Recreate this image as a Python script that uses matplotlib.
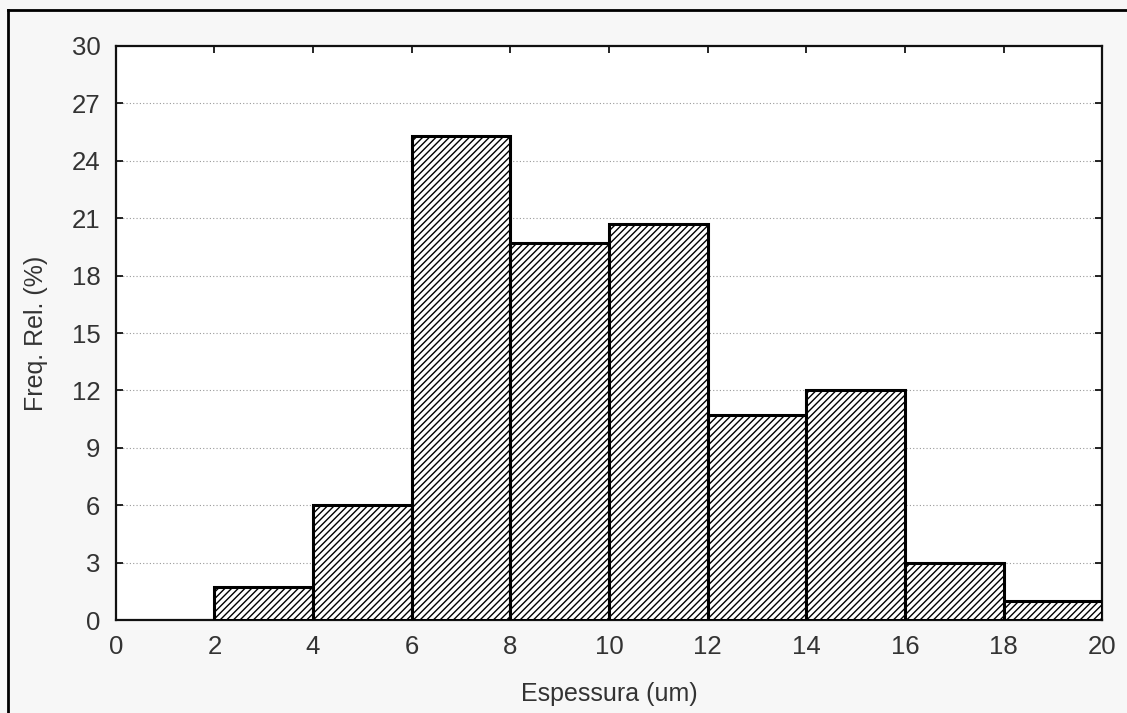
import matplotlib
matplotlib.use("Agg")
import matplotlib.pyplot as plt
from matplotlib.lines import Line2D

bin_edges = [2, 4, 6, 8, 10, 12, 14, 16, 18]
bin_width = 2
freq = [1.7, 6.0, 25.3, 19.7, 20.7, 10.7, 12.0, 3.0, 1.0]
x_ticks = list(range(0, 21, 2))
y_ticks = list(range(0, 31, 3))

plt.rcParams['font.family'] = ['Liberation Sans', 'DejaVu Sans']
plt.rcParams['hatch.linewidth'] = 1.0
plt.rcParams['hatch.color'] = '#222222'

fig = plt.figure(figsize=(11.27, 7.13), dpi=100, facecolor='#f7f7f7')
ax = fig.add_axes([0.1027, 0.1304, 0.978 - 0.1027, 0.9355 - 0.1304])
ax.set_facecolor('white')

ax.bar(bin_edges, freq, width=bin_width, align='edge', facecolor='white',
       edgecolor='black', linewidth=2.2, hatch='/////', zorder=3)

ax.set_xlim(0, 20)
ax.set_ylim(0, 30)
ax.set_xticks(x_ticks)
ax.set_yticks(y_ticks)
for y in y_ticks[1:-1]:
    ax.axhline(y, color='#999999', linestyle=(0, (1, 2)), linewidth=0.8, zorder=1)

ax.tick_params(axis='both', direction='in', length=5, width=1.2, labelsize=18.5,
               colors='black', labelcolor='#333333')
ax.tick_params(axis='x', bottom=False, top=True, pad=11)
ax.tick_params(axis='y', left=True, right=True, pad=11)
for s in ax.spines.values():
    s.set_linewidth(1.6)
    s.set_color('#111111')

ax.set_xlabel('Espessura (um)', fontsize=18, color='#333333', labelpad=16)
ax.set_ylabel('Freq. Rel. (%)', fontsize=18, color='#333333', labelpad=17)

# figure frame (top and left edges)
fig.add_artist(Line2D([8/1127, 8/1127], [0, 1 - 10/713], transform=fig.transFigure,
                      color='black', linewidth=2))
fig.add_artist(Line2D([8/1127, 1], [1 - 10/713, 1 - 10/713], transform=fig.transFigure,
                      color='black', linewidth=2))

fig.savefig('out.png', dpi=100, facecolor=fig.get_facecolor())
